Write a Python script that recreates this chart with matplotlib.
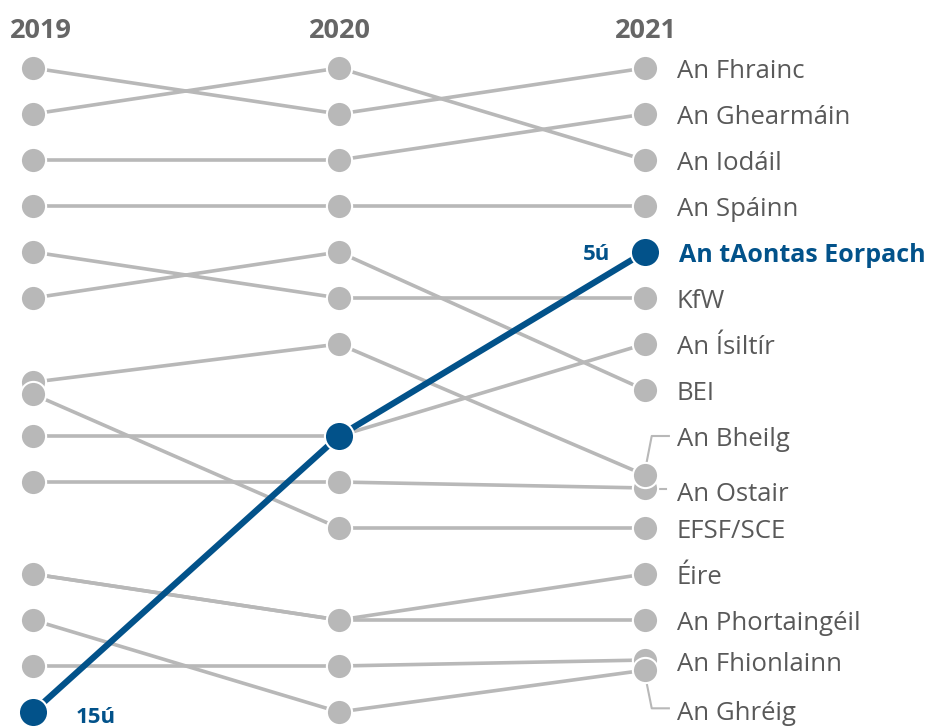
import matplotlib
matplotlib.use("Agg")
import matplotlib.pyplot as plt

plt.rcParams["font.family"] = ["Open Sans", "DejaVu Sans"]

GREY, BLUE, TXT, HEAD = "#b8b8b8", "#02528a", "#595959", "#666666"

years = ["2019", "2020", "2021"]
names = ["An Fhrainc", "An Ghearmáin", "An Iodáil", "An Spáinn", "An tAontas Eorpach",
         "KfW", "An Ísiltír", "BEI", "An Ostair", "An Bheilg", "EFSF/SCE",
         "Éire", "An Phortaingéil", "An Fhionlainn", "An Ghréig"]
# rang per bliain (ceangail le fritháireamh beag)
r2019 = [1, 3, 2, 4, 15, 5, 9, 6, 10, 7.83, 8.09, 12, 12, 14, 13]
r2020 = [2, 3, 1, 4, 9, 6, 9, 5, 10, 7, 11, 13, 13, 14, 15]
r2021 = [1, 2, 3, 4, 5, 6, 7, 8, 10.13, 9.85, 11, 12, 13, 13.87, 14.09]
highlight = "An tAontas Eorpach"
rank_first, rank_last = "15ú", "5ú"

# label y where it differs from the last point
label_y = {"An Bheilg": 9.0, "An Ostair": 10.2, "An Fhionlainn": 13.9, "An Ghréig": 14.97}

fig = plt.figure(figsize=(9.44, 7.27), dpi=100)
ax = fig.add_axes([0, 0, 1, 1])
ax.set_xlim(-33 / 306, 2 + 299 / 306)
ax.set_ylim(1 + 659 / 46, 1 - 68 / 46)
ax.axis("off")

xs = [0, 1, 2]
for i, n in enumerate(names):
    ys = [r2019[i], r2020[i], r2021[i]]
    if n == highlight:
        ax.plot(xs, ys, color=BLUE, lw=4.5, zorder=50, solid_capstyle="round")
        ax.scatter(xs, ys, s=440, color=BLUE, edgecolor="white", lw=1.5, zorder=51)
        ax.text(1.886, ys[2], rank_last, color=BLUE, fontsize=16, fontweight="bold",
                ha="right", va="center_baseline")
        ax.text(0.14, ys[0] + 0.06, rank_first, color=BLUE, fontsize=16, fontweight="bold",
                ha="left", va="center_baseline")
        ax.text(2.11, ys[2], n, color=BLUE, fontsize=18, fontweight="bold",
                va="center_baseline")
        continue
    ax.plot(xs, ys, color=GREY, lw=2.6, zorder=2 * i + 1)
    ax.scatter(xs, ys, s=330, color=GREY, edgecolor="white", lw=1.5, zorder=2 * i + 2)
    ly = label_y.get(n, ys[2])
    ax.text(2.104, ly, n, color=TXT, fontsize=18.5, va="center_baseline")

# connectors for the tied labels
ax.plot([2.003, 2.022, 2.078], [r2021[9] - 0.2, 9.0, 9.0], color=GREY, lw=1.5, zorder=1)
ax.plot([2.025, 2.07], [10.15, 10.15], color=GREY, lw=1.5, zorder=1)
ax.plot([2.003, 2.022, 2.078], [r2021[14] + 0.2, 14.92, 14.92], color=GREY, lw=1.5, zorder=1)

for x, y in zip(xs, years):
    ax.text(x + (0.027 if x == 0 else 0.003), 1 - 40 / 46, y, color=HEAD, fontsize=19.5,
            fontweight="bold", ha="center", va="center_baseline")

fig.savefig("out.png", dpi=100, facecolor="white")
